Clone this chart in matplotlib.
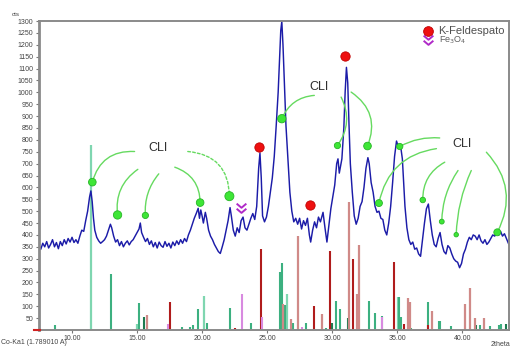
import numpy as np
import matplotlib.pyplot as plt
from matplotlib.path import Path

plt.rcParams['font.family'] = ['Liberation Sans', 'DejaVu Sans']

# difractograma medido (2theta, cts)
two_theta = [7.46, 7.6, 7.75, 7.9, 8.05, 8.2, 8.35, 8.5, 8.65, 8.8, 8.95, 9.1, 9.25, 9.4,
             9.55, 9.7, 9.85, 10.0, 10.15, 10.3, 10.45, 10.6, 10.75, 10.9, 11.05, 11.2,
             11.35, 11.45, 11.55, 11.65, 11.75, 11.9, 12.05, 12.2, 12.35, 12.5, 12.65,
             12.8, 12.95, 13.05, 13.2, 13.35, 13.5, 13.65, 13.8, 13.95, 14.1, 14.25, 14.4,
             14.55, 14.7, 14.85, 15.0, 15.15, 15.25, 15.35, 15.5, 15.65, 15.8, 15.95, 16.1,
             16.25, 16.4, 16.55, 16.7, 16.85, 17.0, 17.15, 17.3, 17.45, 17.6, 17.75, 17.9,
             18.05, 18.2, 18.35, 18.5, 18.65, 18.8, 18.95, 19.1, 19.25, 19.4, 19.55, 19.7,
             19.8, 19.9, 20.0, 20.1, 20.25, 20.35, 20.5, 20.65, 20.8, 20.95, 21.1, 21.25,
             21.4, 21.55, 21.7, 21.85, 22.0, 22.15, 22.25, 22.4, 22.55, 22.7, 22.85, 23.0,
             23.15, 23.3, 23.45, 23.6, 23.75, 23.9, 24.05, 24.2, 24.35, 24.45, 24.55, 24.65,
             24.8, 24.95, 25.1, 25.25, 25.4, 25.55, 25.7, 25.85, 25.95, 26.05, 26.13, 26.22,
             26.32, 26.45, 26.6, 26.75, 26.9, 27.05, 27.2, 27.35, 27.5, 27.65, 27.8, 27.95,
             28.1, 28.25, 28.35, 28.5, 28.65, 28.8, 28.95, 29.1, 29.3, 29.45, 29.6, 29.75,
             29.9, 30.05, 30.2, 30.35, 30.45, 30.55, 30.65, 30.75, 30.9, 31.0, 31.1, 31.2,
             31.3, 31.4, 31.55, 31.7, 31.85, 32.0, 32.15, 32.3, 32.45, 32.6, 32.75, 32.85,
             33.0, 33.15, 33.3, 33.45, 33.6, 33.75, 33.9, 34.05, 34.2, 34.35, 34.5, 34.65,
             34.8, 34.95, 35.1, 35.25, 35.4, 35.5, 35.6, 35.75, 35.9, 36.05, 36.2, 36.35,
             36.5, 36.65, 36.8, 36.95, 37.1, 37.25, 37.4, 37.55, 37.7, 37.85, 38.0, 38.15,
             38.3, 38.45, 38.6, 38.75, 38.9, 39.05, 39.2, 39.35, 39.5, 39.65, 39.8, 39.95,
             40.1, 40.25, 40.4, 40.55, 40.7, 40.85, 41.0, 41.15, 41.3, 41.45, 41.6, 41.75,
             41.9, 42.05, 42.2, 42.35, 42.5, 42.65, 42.8, 42.95, 43.1, 43.25, 43.4, 43.55,
             43.6]
counts = [355, 340, 365, 350, 372, 345, 360, 380, 350, 368, 342, 372, 355, 380,
          362, 385, 370, 390, 368, 380, 365, 395, 420, 415, 460, 500,
          560, 585, 540, 470, 420, 390, 375, 365, 372, 380, 395,
          420, 445, 430, 395, 370, 380, 355, 372, 350, 365, 375, 358,
          372, 380, 395, 410, 425, 450, 410, 390, 372, 385, 360, 375,
          350, 368, 345, 370, 355, 348, 372, 352, 365, 345, 370, 355,
          375, 360, 380, 365, 385, 372, 400, 420, 445, 470, 490, 512,
          470, 505, 480, 450, 495, 470, 420, 395, 380, 360, 345, 330,
          322, 350, 380, 420, 460, 515, 480, 420, 395, 430, 410, 460,
          475, 430, 420, 445, 470, 490, 465, 520, 680, 745, 640, 480,
          455, 475, 520, 580, 640, 730, 860, 1000, 1130, 1260, 1298, 1200,
          1050, 860, 720, 580, 500, 455, 470, 445, 470, 425, 460, 440,
          470, 400, 370, 420, 455, 430, 475, 455, 495, 430, 370, 440,
          510, 560, 610, 700, 720, 660, 690, 720, 850, 1000, 1105, 1040,
          860, 700, 580, 480, 445, 470, 520, 540, 600, 680, 725, 700,
          620, 580, 520, 495, 500, 470, 465, 420, 400, 450, 520, 620,
          730, 795, 770, 780, 720, 620, 520, 430, 380, 360, 370, 340,
          345, 320, 310, 380, 450, 510, 530, 460, 400, 360, 350, 385,
          410, 360, 330, 320, 355, 345, 320, 300, 290, 285, 262, 280,
          320, 340, 370, 390, 380, 400, 395, 380, 400, 375, 365, 380,
          360, 370, 385, 400, 395, 410, 400, 415, 395, 405, 385, 365,
          360]

# patrones de referencia (posicion 2theta, intensidad)
lightgreen_pos = [11.46, 15.0, 20.18, 26.5, 35.03]
lightgreen_int = [780, 27, 141, 153, 137]
green_pos = [8.67, 13.0, 15.18, 18.46, 19.05, 19.28, 19.67, 20.4, 22.18, 23.75, 26.0,
             26.15, 26.4, 26.97, 28.0, 29.54, 30.3, 30.6, 32.8, 33.3, 33.8, 35.18, 35.3,
             36.1, 37.35, 38.2, 38.3, 39.15, 41.4, 42.15, 42.8, 43.0]
green_int = [21, 235, 113, 13, 12, 19, 90, 30, 92, 31, 242,
             280, 105, 31, 28, 10, 122, 87, 122, 70, 59, 140, 55,
             10, 116, 36, 36, 18, 20, 15, 21, 27]
darkgreen_pos = [15.5, 30.0, 31.25, 41.05, 43.4]
darkgreen_int = [56, 31, 50, 20, 27]
darkred_pos = [17.54, 22.54, 24.5, 28.6, 29.85, 31.59, 34.72, 35.5, 37.4]
darkred_int = [118, 8, 340, 101, 333, 298, 288, 27, 20]
lightred_pos = [15.8, 26.26, 26.85, 27.4, 29.23, 31.3, 31.9, 32.1, 35.8, 35.95, 37.65,
                40.18, 40.6, 41.0, 41.65]
lightred_int = [63, 108, 48, 397, 69, 537, 151, 359, 133, 119, 80,
                110, 175, 52, 50]
pink_pos = [17.36, 23.05, 24.64, 27.67, 33.85]
pink_int = [25, 153, 55, 13, 55]

# marcadores de fases
cli_pos = [11.56, 13.5, 15.64, 19.85, 22.1, 26.13, 30.41, 32.72, 35.2, 33.6, 36.97,
           38.43, 39.54, 42.7]
cli_cts = [622, 484, 482, 536, 563, 889, 776, 774, 772, 534, 547, 456, 401, 411]
kfeld_pos = [24.4, 28.31, 31.0]
kfeld_cts = [772, 527, 1152]
fe3o4_pos = [23.0]
fe3o4_cts = [513]

# etiquetas CLI: (2theta, cts) del texto y puntos de salida de las lineas
cli_labels = [(16.6, 767), (28.99, 1023), (39.97, 781)]
cli_starts = [(14.81, 751), (15.06, 676), (16.67, 657), (17.9, 685), (18.9, 751),
              (28.63, 987), (30.69, 980), (31.46, 1001), (38.27, 808), (38.02, 763),
              (38.66, 706), (39.68, 671), (40.7, 671), (41.86, 748)]
cli_rads = [0.4, 0.3, 0.2, -0.35, -0.45, 0.3, -0.3, -0.4, 0.15, 0.35, 0.3, 0.15, 0.1, -0.35]
cli_sizes = [5.5, 6, 4.5, 5.5, 6.5, 6, 4.5, 5.5, 4.5, 5, 4, 3.5, 3.2, 5]

fig = plt.figure(figsize=(5.11, 3.47), dpi=100)
ax = fig.add_axes([39 / 511, 17 / 347, 470 / 511, 309 / 347])

ax.vlines(lightgreen_pos, 0, lightgreen_int, color='#7fd6b0', lw=1.6, zorder=1)
ax.vlines(green_pos, 0, green_int, color='#3cb080', lw=1.5, zorder=1)
ax.vlines(darkgreen_pos, 0, darkgreen_int, color='#1e7a50', lw=1.5, zorder=1)
ax.vlines(darkred_pos, 0, darkred_int, color='#b01c1c', lw=1.5, zorder=1)
ax.vlines(lightred_pos, 0, lightred_int, color='#d08a88', lw=1.6, zorder=1)
ax.vlines(pink_pos, 0, pink_int, color='#d88ae0', lw=1.5, zorder=1)

ax.plot(two_theta, counts, color='#1c1ca8', lw=1.05, zorder=2)

# lineas de CLI
for (sx, sy), px, py, r in zip(cli_starts, cli_pos, cli_cts, cli_rads):
    ls = (0, (2, 1.5)) if r == -0.45 else '-'
    ax.annotate('', xy=(px, py), xytext=(sx, sy),
                arrowprops=dict(arrowstyle='-', color='#66da60', lw=1.0, ls=ls,
                                connectionstyle=f'arc3,rad={r}', shrinkA=0, shrinkB=0),
                zorder=3)
for (lx, ly) in cli_labels:
    ax.text(lx, ly, 'CLI', fontsize=9, color='#303030', ha='center', va='center', zorder=5)

ax.scatter(cli_pos, cli_cts, s=[v ** 2 for v in cli_sizes], color='#3ee636',
           edgecolors='#26b526', linewidths=0.6, zorder=4)
ax.scatter(kfeld_pos, kfeld_cts, s=45, color='#ee1010', edgecolors='#c00000',
           linewidths=0.6, zorder=4)

chevron = Path([(-1, 1), (0, 0.15), (1, 1), (-1, -0.05), (0, -0.9), (1, -0.05)],
               [Path.MOVETO, Path.LINETO, Path.LINETO, Path.MOVETO, Path.LINETO, Path.LINETO])
ax.plot(fe3o4_pos, fe3o4_cts, ls='none', marker=chevron, ms=7, mfc='none',
        mec='#b02ac8', mew=1.4, zorder=4)

# leyenda
ax.plot([0.828], [0.9686], transform=ax.transAxes, marker='o', ms=7, color='#ee1010',
        mec='#c00000', mew=0.6, ls='none', clip_on=False)
ax.text(0.849, 0.9686, 'K-Feldespato', transform=ax.transAxes, fontsize=8,
        color='#505050', va='center')
ax.plot([0.828], [0.938], transform=ax.transAxes, marker=chevron, ms=7, mfc='none',
        mec='#b02ac8', mew=1.4, ls='none', clip_on=False)
ax.text(0.851, 0.938, 'Fe$_3$O$_4$', transform=ax.transAxes, fontsize=6.5,
        color='#606060', va='center')

ax.set_xlim(7.46, 43.6)
ax.set_ylim(0, 1300)
ax.set_xticks([10, 15, 20, 25, 30, 35, 40])
ax.set_xticklabels(['10.00', '15.00', '20.00', '25.00', '30.00', '35.00', '40.00'])
ax.set_yticks(np.arange(0, 1301, 50))
ax.set_yticklabels([''] + [str(v) for v in range(50, 1301, 50)])
ax.tick_params(axis='y', direction='out', length=2.5, width=0.8, labelsize=5,
               colors='#777', labelcolor='#444', pad=1.5)
ax.tick_params(axis='x', direction='out', length=2, width=0.8, labelsize=5,
               colors='#777', labelcolor='#444', pad=1.5)
ax.spines['left'].set_color('#8a8a8a')
ax.spines['left'].set_linewidth(2)
for s in ['top', 'right', 'bottom']:
    ax.spines[s].set_color('#8a8a8a')
    ax.spines[s].set_linewidth(1.4)
ax.plot([7.1, 7.5], [0, 0], color='#d02020', lw=1.5, clip_on=False, zorder=6)

fig.text(16 / 511, 1 - 14 / 347, 'cts', fontsize=4.5, color='#444', ha='center', va='center')
fig.text(1 / 511, 1 - 343 / 347, 'Co-Ka1 (1.789010 A)', fontsize=5, color='#444', va='center')
fig.text(491 / 511, 1 - 344 / 347, '2theta', fontsize=5, color='#444', va='center')

plt.savefig('out.png', dpi=100)
